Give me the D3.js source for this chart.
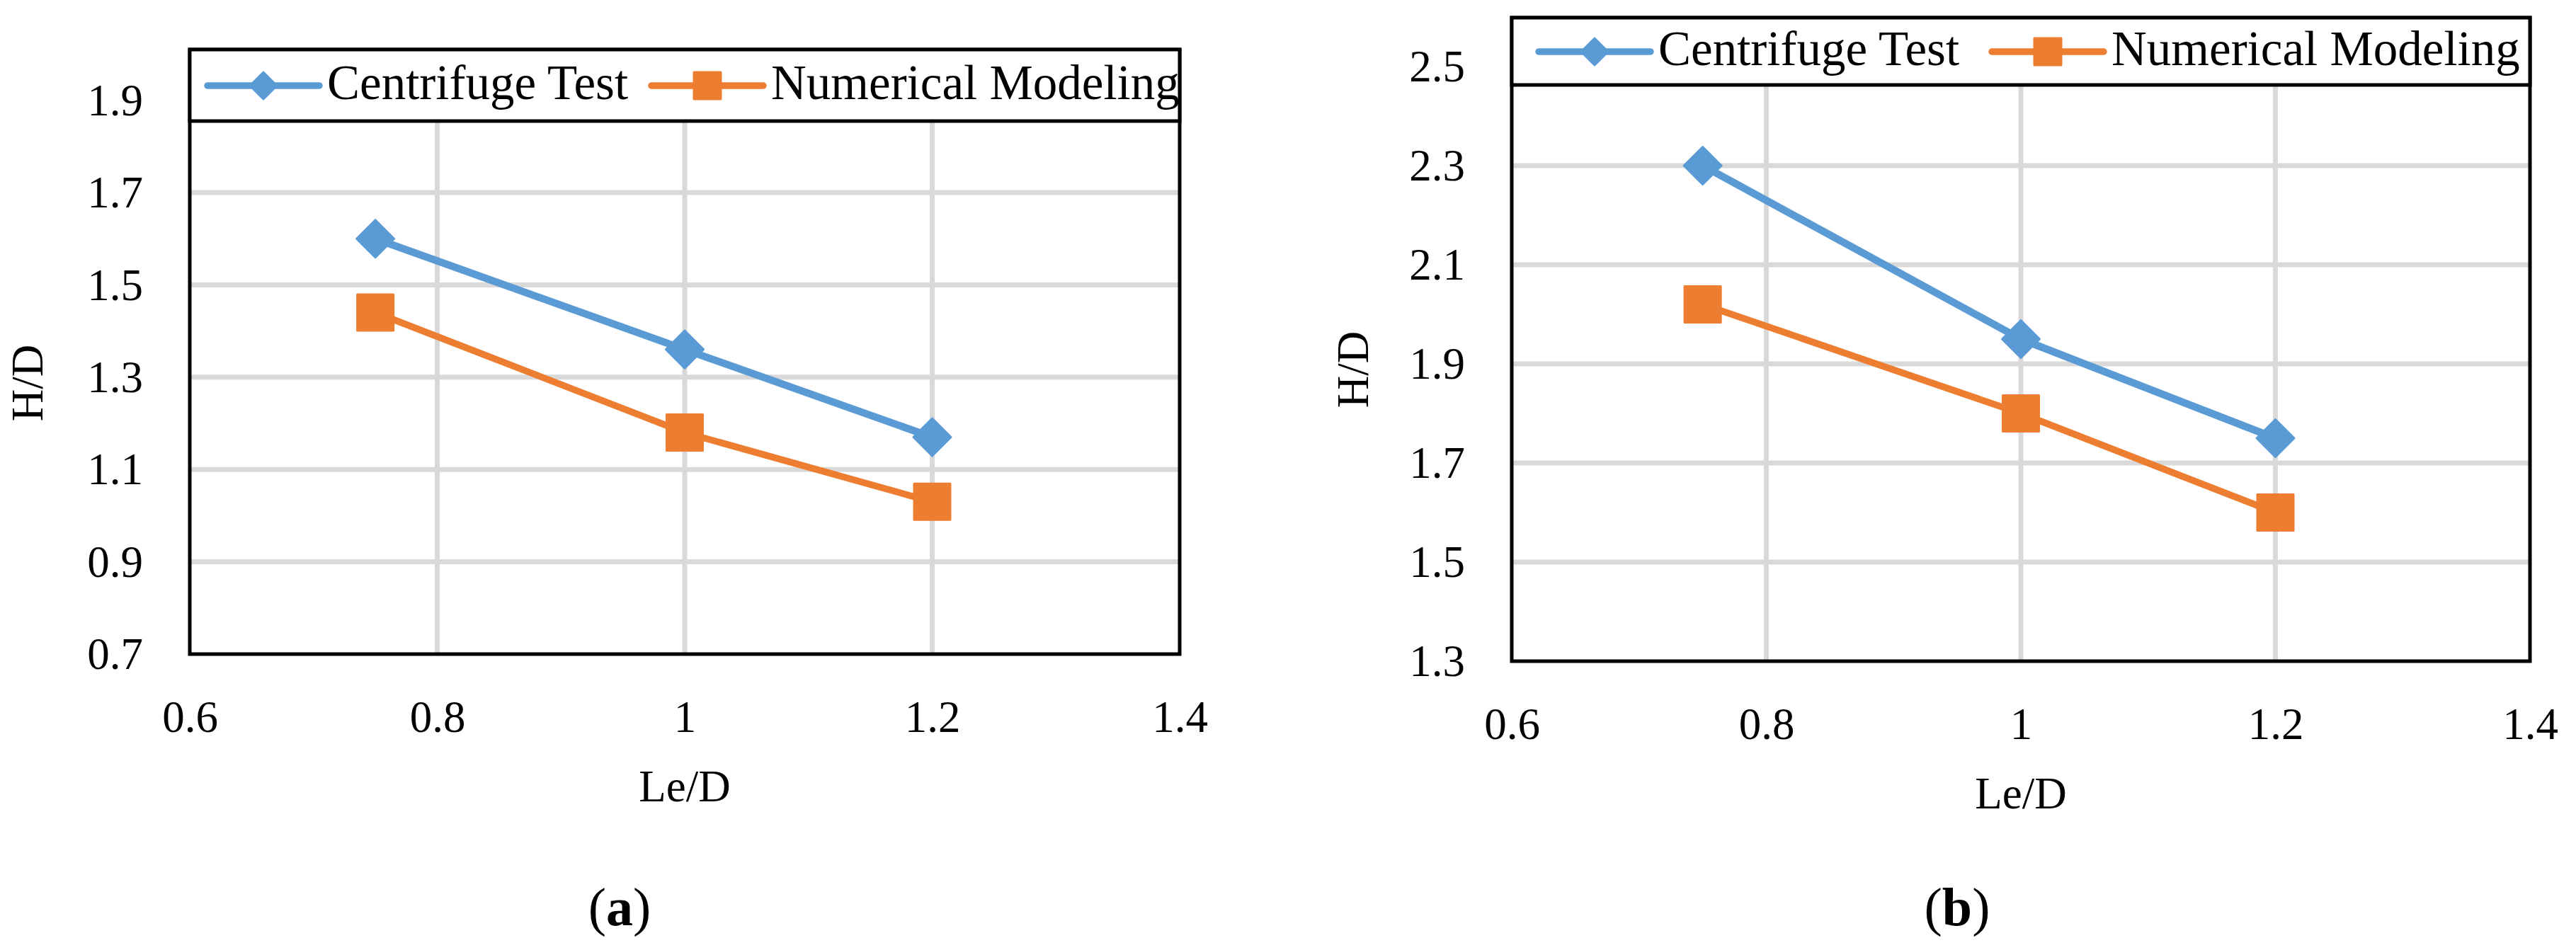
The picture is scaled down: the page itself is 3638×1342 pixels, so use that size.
<!DOCTYPE html>
<html>
<head>
<meta charset="utf-8">
<script src="https://cdn.jsdelivr.net/npm/d3@7"></script>
<style>
  body { margin: 0; background: #fff; }
  svg { display: block; }
  text { font-family: "Palatino Linotype", "Book Antiqua", Palatino, "Liberation Serif", serif; fill: #000; }
</style>
</head>
<body>
<script>
// values
const leD = [0.75, 1.0, 1.2];
const centrifugeA = [1.60, 1.36, 1.17];
const numericalA = [1.44, 1.18, 1.03];
const centrifugeB = [2.30, 1.95, 1.75];
const numericalB = [2.02, 1.80, 1.60];

const xTicks = [0.6, 0.8, 1, 1.2, 1.4];
const yTicksA = [0.7, 0.9, 1.1, 1.3, 1.5, 1.7, 1.9];
const yTicksB = [1.3, 1.5, 1.7, 1.9, 2.1, 2.3, 2.5];

const seriesNames = ['Centrifuge Test', 'Numerical Modeling'];
const seriesColors = ['#5b9bd5', '#ed7d31'];
const panelLabels = ['a', 'b'];

const W = 3638, H = 1342;
const svg = d3.select('body').append('svg').attr('width', W).attr('height', H);

/** layout of each panel */
const panels = [
  {
    label: panelLabels[0], centrifuge: centrifugeA, numerical: numericalA, yTicks: yTicksA,
    left: 268, right: 1666, top: 70, bottom: 924, yTop: 141.6,
    legendBottom: 171, legendY: 121, legendItems: [293, 920],
    yTitleX: 60, yTitleY: 541, labelX: 875
  },
  {
    label: panelLabels[1], centrifuge: centrifugeB, numerical: numericalB, yTicks: yTicksB,
    left: 2135, right: 3573, top: 25, bottom: 934, yTop: 94,
    legendBottom: 120, legendY: 73, legendItems: [2173, 2813],
    yTitleX: 1932, yTitleY: 522, labelX: 2764
  }
];

function diamond(cx, cy, r) {
  return `M${cx},${cy - r}L${cx + r},${cy}L${cx},${cy + r}L${cx - r},${cy}Z`;
}

function drawMarker(g, kind, cx, cy, r, color) {
  if (kind === 0) {
    g.append('path').attr('d', diamond(cx, cy, r))
      .attr('fill', color).attr('stroke', color).attr('stroke-width', 3).attr('stroke-linejoin', 'round');
  } else {
    g.append('rect').attr('x', cx - r).attr('y', cy - r).attr('width', 2 * r).attr('height', 2 * r)
      .attr('fill', color).attr('stroke', color).attr('stroke-width', 3).attr('stroke-linejoin', 'round');
  }
}

function drawPanel(p) {
  const g = svg.append('g');
  const x = d3.scaleLinear().domain([xTicks[0], xTicks[xTicks.length - 1]]).range([p.left, p.right]);
  const y = d3.scaleLinear().domain([p.yTicks[0], p.yTicks[p.yTicks.length - 1]]).range([p.bottom, p.yTop]);

  // gridlines
  g.append('g').selectAll('line').data(p.yTicks.slice(1)).join('line')
    .attr('x1', p.left).attr('x2', p.right)
    .attr('y1', d => y(d)).attr('y2', d => y(d))
    .attr('stroke', '#d9d9d9').attr('stroke-width', 7);
  g.append('g').selectAll('line').data(xTicks.slice(1, -1)).join('line')
    .attr('x1', d => x(d)).attr('x2', d => x(d))
    .attr('y1', p.top).attr('y2', p.bottom)
    .attr('stroke', '#d9d9d9').attr('stroke-width', 7);

  // series
  const series = [p.centrifuge, p.numerical];
  const widths = [10.5, 9.5];
  series.forEach((vals, i) => {
    const pts = leD.map((v, j) => [x(v), y(vals[j])]);
    g.append('path').attr('d', d3.line()(pts))
      .attr('fill', 'none').attr('stroke', seriesColors[i])
      .attr('stroke-width', widths[i]).attr('stroke-linejoin', 'round');
  });
  series.forEach((vals, i) => {
    leD.forEach((v, j) => drawMarker(g, i, x(v), y(vals[j]), i === 0 ? 26.5 : 25.5, seriesColors[i]));
  });

  // frame
  g.append('rect').attr('x', p.left).attr('y', p.top)
    .attr('width', p.right - p.left).attr('height', p.bottom - p.top)
    .attr('fill', 'none').attr('stroke', '#000').attr('stroke-width', 5);

  // axes
  const yAxis = d3.axisLeft(y).tickValues(p.yTicks).tickSize(0).tickPadding(66).tickFormat(d => String(d));
  const ya = g.append('g').attr('transform', `translate(${p.left},0)`).call(yAxis);
  const xAxis = d3.axisBottom(x).tickValues(xTicks).tickSize(0).tickPadding(65).tickFormat(d => String(d));
  const xa = g.append('g').attr('transform', `translate(0,${p.bottom})`).call(xAxis);
  [ya, xa].forEach(a => {
    a.select('.domain').remove();
    a.attr('font-family', null).attr('font-size', null);
    a.selectAll('text').attr('font-size', 63).attr('fill', '#000');
  });
  ya.selectAll('text').attr('dy', '0.33em');

  // axis titles
  g.append('text').attr('x', (p.left + p.right) / 2).attr('y', p.bottom + 208)
    .attr('text-anchor', 'middle').attr('font-size', 63).text('Le/D');
  g.append('text').attr('transform', `translate(${p.yTitleX},${p.yTitleY}) rotate(-90)`)
    .attr('text-anchor', 'middle').attr('font-size', 63).text('H/D');

  // legend
  const lg = g.append('g');
  lg.append('rect').attr('x', p.left).attr('y', p.top)
    .attr('width', p.right - p.left).attr('height', p.legendBottom - p.top)
    .attr('fill', '#fff').attr('stroke', '#000').attr('stroke-width', 5);
  seriesNames.forEach((name, i) => {
    const x0 = p.legendItems[i];
    lg.append('line').attr('x1', x0).attr('x2', x0 + 158)
      .attr('y1', p.legendY).attr('y2', p.legendY)
      .attr('stroke', seriesColors[i]).attr('stroke-width', 9.5).attr('stroke-linecap', 'round');
    drawMarker(lg, i, x0 + 79, p.legendY, 19, seriesColors[i]);
    lg.append('text').attr('x', x0 + 169).attr('y', p.legendY + 19)
      .attr('font-size', 69).text(name);
  });

  // panel label
  const lab = g.append('text').attr('x', p.labelX).attr('y', 1307)
    .attr('text-anchor', 'middle').attr('font-size', 76);
  lab.append('tspan').text('(');
  lab.append('tspan').attr('font-weight', 'bold').text(p.label);
  lab.append('tspan').text(')');
}

panels.forEach(drawPanel);
</script>
</body>
</html>
